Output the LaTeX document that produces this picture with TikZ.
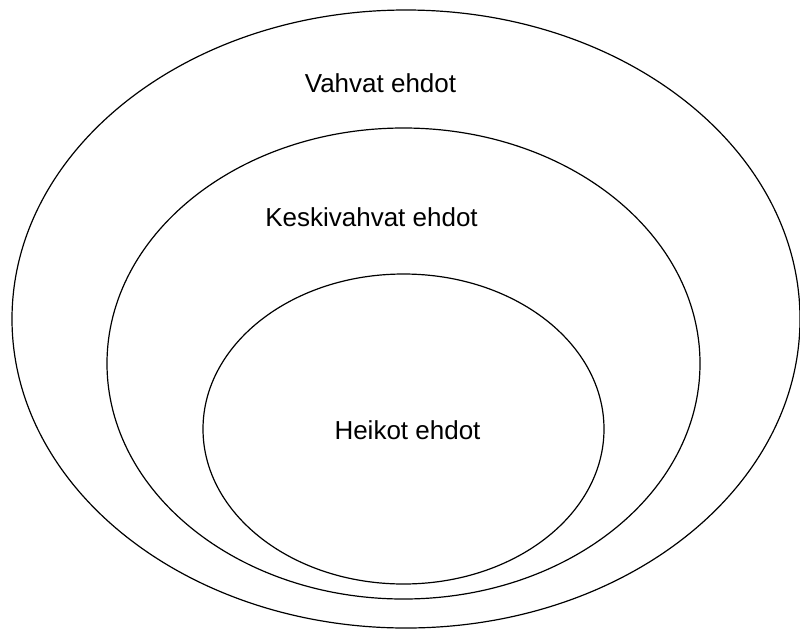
\documentclass[tikz,border=0pt]{standalone}
\usepackage{fontspec}
\setmainfont{Liberation Sans}
\tikzset{
  ring/.style={draw=black, line width=1.2pt},
  lbl/.style={font=\fontsize{26}{30}\selectfont, anchor=base, inner sep=0pt}
}
\begin{document}
\begin{tikzpicture}[x=1pt,y=-1pt]
\useasboundingbox (0,0) rectangle (800,630);
\draw[ring] (406,319) ellipse [x radius=394, y radius=309];
\draw[ring] (403.5,363.5) ellipse [x radius=296.5, y radius=235.5];
\draw[ring] (403.5,429) ellipse [x radius=200.5, y radius=155];
\node[lbl] (vahvat) at (380.5,92) {Vahvat ehdot};
\node[lbl] (keski) at (371.5,226) {Keskivahvat ehdot};
\node[lbl] (heikot) at (407.5,439) {Heikot ehdot};
\end{tikzpicture}
\end{document}
